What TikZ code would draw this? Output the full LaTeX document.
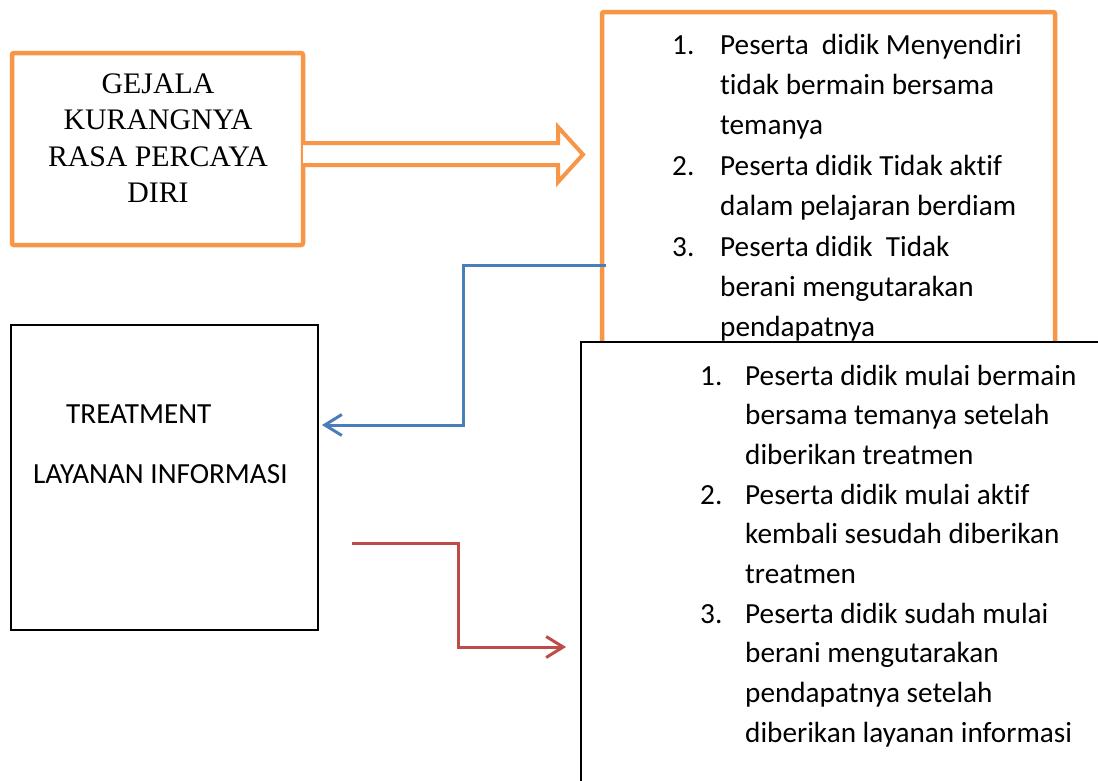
\documentclass[tikz,border=0pt]{standalone}
\usepackage{fontspec}
\usetikzlibrary{arrows.meta}
\newfontfamily\calfont[Ligatures=NoCommon]{Carlito}
\newfontfamily\timesfont{Liberation Serif}
\definecolor{ora}{HTML}{F79646}
\definecolor{blu}{HTML}{4A7EBB}
\definecolor{rd}{HTML}{BE4B48}
\tikzset{
  obox/.style={draw=ora, line width=4.5pt, rounded corners=2pt, fill=white},
  kbox/.style={draw=black, line width=1.5pt, fill=white},
  ttl/.style={inner sep=0pt, anchor=base, font=\timesfont\fontsize{29.8}{36}\selectfont},
  txt/.style={inner sep=0pt, anchor=base west, font=\calfont\fontsize{29.2}{40}\selectfont},
  conn/.style={line width=3pt, -{Straight Barb[length=17pt,width=21pt,line width=3pt]}},
}
\begin{document}
\begin{tikzpicture}[x=1pt,y=-1pt]
\useasboundingbox (0,0) rectangle (1098,780);
\clip (0,0) rectangle (1098,780);
\fill[white] (0,0) rectangle (1098,780);

% box 1
\draw[obox] (12,53) rectangle (303,245);
\node[ttl] (g1) at (158,93) {GEJALA};
\node[ttl] (g2) at (158,129.5) {KURANGNYA};
\node[ttl] (g3) at (158,166) {RASA PERCAYA};
\node[ttl] (g4) at (158,202.5) {DIRI};

% hollow arrow
\draw[draw=ora, line width=4pt, line join=miter, fill=white]
  (303,143) -- (558,143) -- (558,127) -- (583,154.5) -- (558,182) -- (558,165) -- (303,165);

% box 2
\draw[obox] (602,12) rectangle (1055,420);
\node[txt] (a1n) at (672,54) {1.};
\node[txt] (a1a) at (720,54) {Peserta\ \ didik Menyendiri};
\node[txt] (a1b) at (720,94.4) {tidak bermain bersama};
\node[txt] (a1c) at (720,134.8) {temanya};
\node[txt] (a2n) at (672,175.2) {2.};
\node[txt] (a2a) at (720,175.2) {Peserta didik Tidak aktif};
\node[txt] (a2b) at (720,215.6) {dalam pelajaran berdiam};
\node[txt] (a3n) at (672,256) {3.};
\node[txt] (a3a) at (720,256) {Peserta didik\ \ Tidak};
\node[txt] (a3b) at (720,296.4) {berani mengutarakan};
\node[txt] (a3c) at (720,336.8) {pendapatnya};

% box 4
\draw[kbox] (11,325) rectangle (318,630);
\node[txt] (t1) at (66,423) {TREATMENT};
\node[txt] (t2) at (33,483) {LAYANAN INFORMASI};

% box 3
\draw[kbox] (581,342) rectangle (1120,800);
\node[txt] (b1n) at (700,385) {1.};
\node[txt] (b1a) at (745,385) {Peserta didik mulai bermain};
\node[txt] (b1b) at (745,424.7) {bersama temanya setelah};
\node[txt] (b1c) at (745,464.4) {diberikan treatmen};
\node[txt] (b2n) at (700,504.1) {2.};
\node[txt] (b2a) at (745,504.1) {Peserta didik mulai aktif};
\node[txt] (b2b) at (745,543.8) {kembali sesudah diberikan};
\node[txt] (b2c) at (745,583.5) {treatmen};
\node[txt] (b3n) at (700,623.2) {3.};
\node[txt] (b3a) at (745,623.2) {Peserta didik sudah mulai};
\node[txt] (b3b) at (745,662.9) {berani mengutarakan};
\node[txt] (b3c) at (745,702.6) {pendapatnya setelah};
\node[txt] (b3d) at (745,742.3) {diberikan layanan informasi};

% blue connector
\coordinate (bs) at (606,265);
\coordinate (bm) at (463,425);
\coordinate (be) at (322,425);
\draw[conn, draw=blu] (bs) -| (bm) -- (be);

% red connector
\coordinate (rs) at (352,543);
\coordinate (rm) at (458,647);
\coordinate (re) at (566,647);
\draw[conn, draw=rd] (rs) -| (rm) -- (re);
\end{tikzpicture}
\end{document}
